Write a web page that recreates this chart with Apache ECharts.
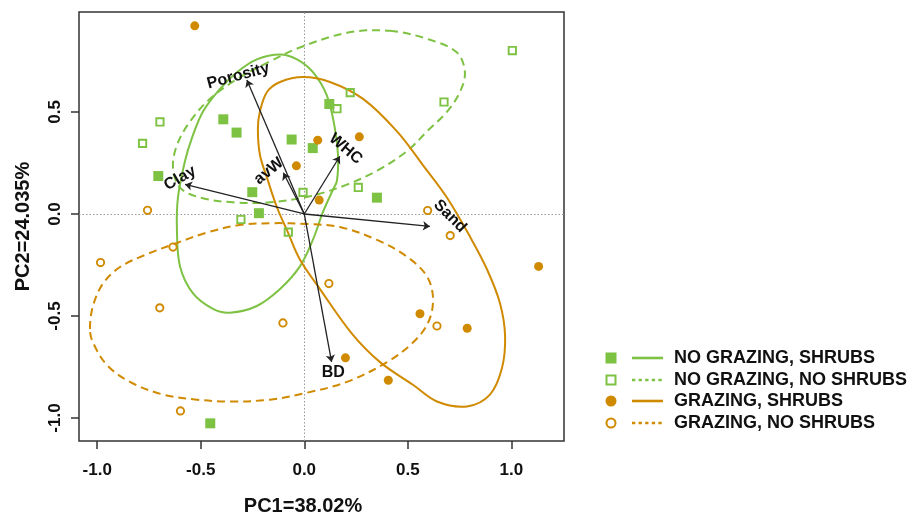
<!DOCTYPE html>
<html><head><meta charset="utf-8">
<script src="https://cdn.jsdelivr.net/npm/echarts@6/dist/echarts.min.js"></script>
<style>html,body{margin:0;padding:0;background:#fff}#c{width:909px;height:521px}</style>
</head><body><div id="c"></div>
<script>
// ---------- data ----------
const groupNames = ['NO GRAZING, SHRUBS', 'NO GRAZING, NO SHRUBS', 'GRAZING, SHRUBS', 'GRAZING, NO SHRUBS'];

const noGrazShrubs = [[-0.391,0.464],[-0.327,0.399],[-0.061,0.365],[0.041,0.323],[-0.705,0.186],[-0.251,0.107],[-0.219,0.004],[0.121,0.539],[0.351,0.080],[-0.454,-1.026]];
const noGrazNoShrubs = [[-0.697,0.451],[-0.781,0.346],[-0.006,0.106],[-0.306,-0.027],[-0.077,-0.089],[1.005,0.801],[0.222,0.595],[0.158,0.516],[0.675,0.549],[0.261,0.130]];
const grazShrubs = [[-0.529,0.922],[0.065,0.362],[-0.038,0.236],[0.072,0.068],[0.266,0.378],[1.132,-0.257],[0.559,-0.489],[0.787,-0.560],[0.199,-0.705],[0.406,-0.815]];
const grazNoShrubs = [[-0.757,0.018],[-0.634,-0.162],[0.596,0.017],[0.705,-0.106],[-0.984,-0.238],[-0.698,-0.460],[-0.103,-0.534],[-0.598,-0.965],[0.119,-0.341],[0.641,-0.549]];

// ellipse outlines (closed loops)
const ellNoGrazShrubs = [[-0.117,0.782],[-0.035,0.758],[0.042,0.695],[0.110,0.579],[0.148,0.419],[0.163,0.289],[0.158,0.163],[0.139,0.120],[0.090,0.009],[0.042,-0.126],[-0.021,-0.257],[-0.117,-0.368],[-0.229,-0.451],[-0.359,-0.484],[-0.441,-0.465],[-0.538,-0.388],[-0.600,-0.257],[-0.615,-0.078],[-0.610,0.081],[-0.576,0.260],[-0.543,0.371],[-0.489,0.502],[-0.407,0.613],[-0.325,0.695],[-0.229,0.758]];
const ellNoGrazNoShrubs = [[0.414,0.898],[0.607,0.854],[0.738,0.791],[0.776,0.695],[0.752,0.598],[0.689,0.501],[0.593,0.405],[0.496,0.308],[0.351,0.212],[0.206,0.144],[0.042,0.091],[-0.166,0.057],[-0.344,0.057],[-0.504,0.081],[-0.600,0.129],[-0.634,0.226],[-0.615,0.337],[-0.552,0.453],[-0.456,0.564],[-0.325,0.661],[-0.175,0.743],[-0.021,0.816],[0.206,0.888]];
const ellGrazShrubs = [[-0.006,0.671],[0.124,0.647],[0.284,0.564],[0.448,0.405],[0.573,0.240],[0.689,0.081],[0.801,-0.112],[0.883,-0.272],[0.945,-0.436],[0.970,-0.596],[0.955,-0.755],[0.897,-0.885],[0.786,-0.943],[0.641,-0.919],[0.525,-0.837],[0.366,-0.726],[0.230,-0.586],[0.076,-0.368],[-0.021,-0.223],[-0.084,-0.078],[-0.132,0.033],[-0.180,0.178],[-0.214,0.289],[-0.224,0.419],[-0.214,0.502],[-0.180,0.598],[-0.117,0.647]];
const ellGrazNoShrubs = [[-1.035,-0.564],[-1.021,-0.453],[-0.973,-0.342],[-0.890,-0.260],[-0.760,-0.197],[-0.634,-0.149],[-0.470,-0.091],[-0.311,-0.054],[-0.151,-0.045],[0.013,-0.049],[0.172,-0.064],[0.351,-0.127],[0.496,-0.209],[0.593,-0.306],[0.622,-0.417],[0.598,-0.533],[0.525,-0.630],[0.400,-0.726],[0.206,-0.823],[0.013,-0.876],[-0.166,-0.910],[-0.359,-0.919],[-0.518,-0.910],[-0.682,-0.885],[-0.842,-0.823],[-0.953,-0.740],[-1.021,-0.629]];

// loading vectors
const loadingNames = ['Porosity','Clay','avW','WHC','Sand','BD'];
const loadingX = [-0.277,-0.576,-0.101,0.172,0.607,0.132];
const loadingY = [0.657,0.145,0.202,0.283,-0.061,-0.725];
const loadingLabelX = [-0.319,-0.600,-0.171,0.200,0.704,0.140];
const loadingLabelY = [0.677,0.175,0.210,0.319,-0.011,-0.778];

// axes
const xTicks = [-1.0,-0.5,0.0,0.5,1.0];
const yTicks = [-1.0,-0.5,0.0,0.5];
const xTitle = 'PC1=38.02%';
const yTitle = 'PC2=24.035%';

// ---------- styling ----------
const GREEN = '#7DC242', ORANGE = '#D08A00';
const FONT = '"Liberation Sans", Arial, Helvetica, sans-serif';
const labelAngles = [15, 30, 40, -40, -45, 0];

const pointSets = [noGrazShrubs, noGrazNoShrubs, grazShrubs, grazNoShrubs];
const ellSets = [ellNoGrazShrubs, ellNoGrazNoShrubs, ellGrazShrubs, ellGrazNoShrubs];
const colors = [GREEN, GREEN, ORANGE, ORANGE];
const filled = [true, false, true, false];
const symbols = ['rect','rect','circle','circle'];
const dashed = [false, true, false, true];

const series = [];
pointSets.forEach((pts, i) => {
  series.push({
    name: groupNames[i], type: 'scatter', data: pts, symbol: symbols[i],
    symbolSize: filled[i] ? (symbols[i]==='rect' ? 10 : 9) : 7.3,
    itemStyle: filled[i] ? {color: colors[i], opacity: 1} : {color: 'rgba(255,255,255,0)', borderColor: colors[i], borderWidth: 1.9, opacity: 1},
    z: 3, silent: true
  });
});
ellSets.forEach((pts, i) => {
  series.push({
    name: groupNames[i] + ' ellipse', type: 'custom', coordinateSystem: 'cartesian2d',
    data: [pts[0]], silent: true, z: 2, clip: true,
    renderItem: (params, api) => ({
      type: 'polygon',
      shape: {points: pts.map(p => api.coord(p)), smooth: 0.35},
      style: {fill: 'none', stroke: colors[i], lineWidth: 2, lineDash: dashed[i] ? [8, 5] : null}
    })
  });
});
// zero reference lines
series[0].markLine = {
  silent: true, symbol: 'none', label: {show: false},
  lineStyle: {color: '#999', width: 1, type: [1.5, 2]},
  data: [{xAxis: 0}, {yAxis: 0}], z: 1, animation: false
};
// loading arrows + labels
series.push({
  name: 'loadings', type: 'scatter', symbolSize: 0, silent: true, z: 5,
  itemStyle: {color: '#111', opacity: 1},
  data: loadingNames.map((n, i) => ({
    name: n, value: [loadingLabelX[i], loadingLabelY[i]],
    label: {rotate: labelAngles[i]}
  })),
  label: {show: true, formatter: p => p.name, position: 'inside', color: '#111', opacity: 1,
          textBorderWidth: 0, textBorderColor: 'transparent',
          fontFamily: FONT, fontWeight: 'bold', fontSize: 16},
  markLine: {
    silent: true, symbol: ['none', 'arrow'], symbolSize: 7, label: {show: false},
    lineStyle: {color: '#222', width: 1.3, type: 'solid'}, animation: false,
    data: loadingNames.map((n, i) => [{coord: [0, 0]}, {coord: [loadingX[i], loadingY[i]]}])
  }
});

// legend drawn as graphic
const legendRowsY = [358, 380, 401, 423];
const graphic = [];
groupNames.forEach((n, i) => {
  const y = legendRowsY[i], cx = 611;
  if (symbols[i] === 'rect') {
    graphic.push({type: 'rect', shape: {x: filled[i] ? cx - 5.5 : cx - 4.5, y: filled[i] ? y - 5.5 : y - 4.5, width: filled[i] ? 11 : 9, height: filled[i] ? 11 : 9},
      style: filled[i] ? {fill: colors[i]} : {fill: 'none', stroke: colors[i], lineWidth: 2}});
  } else {
    graphic.push({type: 'circle', shape: {cx: cx, cy: y, r: filled[i] ? 5.5 : 4.5},
      style: filled[i] ? {fill: colors[i]} : {fill: 'none', stroke: colors[i], lineWidth: 2}});
  }
  graphic.push({type: 'line', shape: {x1: 632, y1: y, x2: 663, y2: y},
    style: {stroke: colors[i], lineWidth: 2.6, lineDash: dashed[i] ? [3.3, 3.3] : null}});
  graphic.push({type: 'text', x: 674, y: y, style: {text: n, fill: '#111', font: 'bold 18px ' + FONT, verticalAlign: 'middle'}});
});

const option = {
  animation: false,
  backgroundColor: '#fff',
  grid: {left: 79, top: 12, width: 485, height: 435, show: true, borderColor: '#333', borderWidth: 1.5, backgroundColor: 'transparent'},
  xAxis: {
    type: 'value', min: -1.088, max: 1.2546,
    axisLine: {show: false, onZero: false},
    splitLine: {show: false},
    axisTick: {show: true, length: 8, customValues: xTicks, lineStyle: {color: '#333', width: 1.5}},
    axisLabel: {customValues: xTicks, formatter: v => v.toFixed(1), fontSize: 17, fontWeight: 'bold', color: '#111', fontFamily: FONT, margin: 21},
    name: xTitle, nameLocation: 'middle', nameGap: 55,
    nameTextStyle: {fontSize: 20, fontWeight: 'bold', color: '#111', fontFamily: FONT, padding: [0, 37, 0, 0]}
  },
  yAxis: {
    type: 'value', min: -1.1126, max: 0.99,
    axisLine: {show: false, onZero: false},
    splitLine: {show: false},
    axisTick: {show: true, length: 8, customValues: yTicks, lineStyle: {color: '#333', width: 1.5}},
    axisLabel: {customValues: yTicks, formatter: v => v.toFixed(1), rotate: 90, fontSize: 17, fontWeight: 'bold', color: '#111', fontFamily: FONT, margin: 15},
    name: yTitle, nameLocation: 'middle', nameGap: 46,
    nameTextStyle: {fontSize: 20, fontWeight: 'bold', color: '#111', fontFamily: FONT}
  },
  series: series,
  graphic: graphic
};
const chart = echarts.init(document.getElementById('c'), null, {renderer: 'canvas'});
chart.setOption(option);
</script>
</body></html>
